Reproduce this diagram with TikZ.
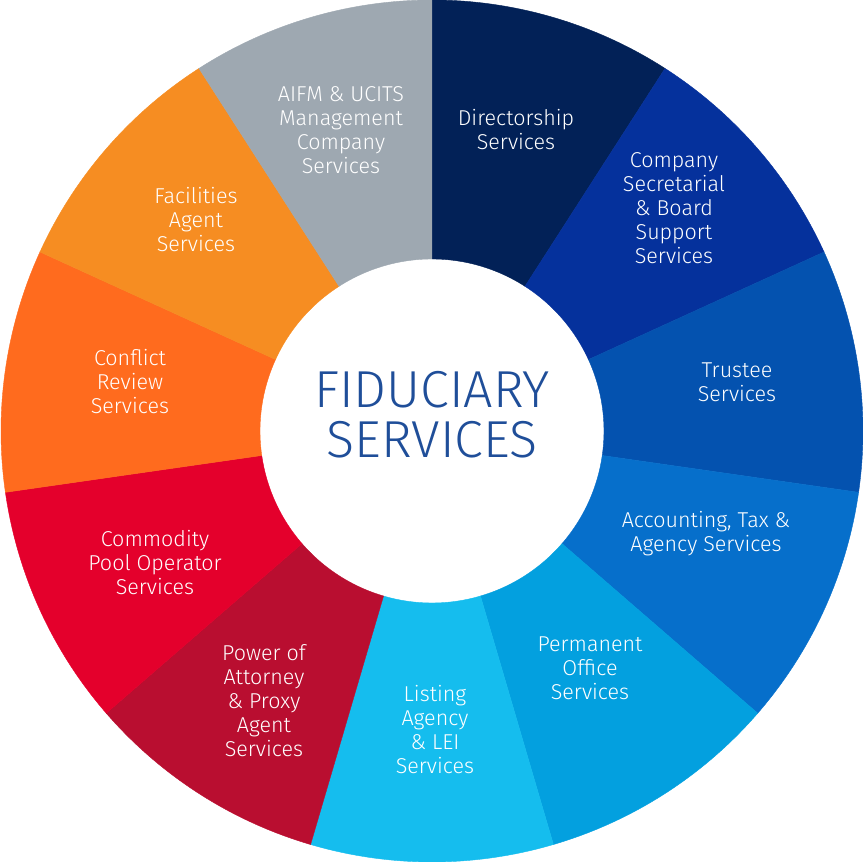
\documentclass[tikz,border=0pt]{standalone}
\usepackage{fontspec}
\setmainfont{Fira Sans}[UprightFont=* Light]
\begin{document}
\begin{tikzpicture}[x=1pt,y=1pt]
\definecolor{cDir}{HTML}{022157}
\definecolor{cSec}{HTML}{05319C}
\definecolor{cTru}{HTML}{0452AF}
\definecolor{cAcc}{HTML}{066FCB}
\definecolor{cPer}{HTML}{03A0DF}
\definecolor{cLis}{HTML}{15BDEE}
\definecolor{cPow}{HTML}{B90E30}
\definecolor{cCom}{HTML}{E4002C}
\definecolor{cCon}{HTML}{FF6B1E}
\definecolor{cFac}{HTML}{F68D22}
\definecolor{cAif}{HTML}{9EA8B1}
\definecolor{cCtr}{HTML}{1F4E99}
\tikzset{
  lbl/.style={text=white, align=center, inner sep=0pt, font=\fontsize{21.5}{24}\selectfont},
  ctr/.style={text=cCtr, align=center, inner sep=0pt, font=\fontsize{52}{50}\selectfont},
}
\useasboundingbox (-432,-431) rectangle (431,431);
\def\Ro{431}
\def\Ri{172}
\foreach \c [count=\i from 0] in {cDir,cSec,cTru,cAcc,cPer,cLis,cPow,cCom,cCon,cFac,cAif}{
  \pgfmathsetmacro{\aone}{90-\i*360/11}
  \pgfmathsetmacro{\atwo}{90-(\i+1)*360/11}
  \fill[\c, draw=\c, line width=0.4pt] (\aone:\Ro) arc[start angle=\aone, end angle=\atwo, radius=\Ro]
    -- (\atwo:\Ri) arc[start angle=\atwo, end angle=\aone, radius=\Ri] -- cycle;
}
\node[ctr] (center) at (0,16) {FIDUCIARY\\SERVICES};
\node[lbl] (dir) at (84,301) {Directorship\\Services};
\node[lbl] (sec) at (242,223) {Company\\Secretarial\\\& Board\\Support\\Services};
\node[lbl] (tru) at (305,49) {Trustee\\Services};
\node[lbl] (acc) at (274,-103) {Accounting, Tax \&\\Agency Services};
\node[lbl] (per) at (158,-237) {Permanent\\Office\\Services};
\node[lbl] (lis) at (3,-299) {Listing\\Agency\\\& LEI\\Services};
\node[lbl] (pow) at (-168,-270) {Power of\\Attorney\\\& Proxy\\Agent\\Services};
\node[lbl] (com) at (-277,-132) {Commodity\\Pool Operator\\Services};
\node[lbl] (con) at (-302,49) {Conflict\\Review\\Services};
\node[lbl] (fac) at (-236,211) {Facilities\\Agent\\Services};
\node[lbl] (aif) at (-91,301) {AIFM \& UCITS\\Management\\Company\\Services};
\end{tikzpicture}
\end{document}
